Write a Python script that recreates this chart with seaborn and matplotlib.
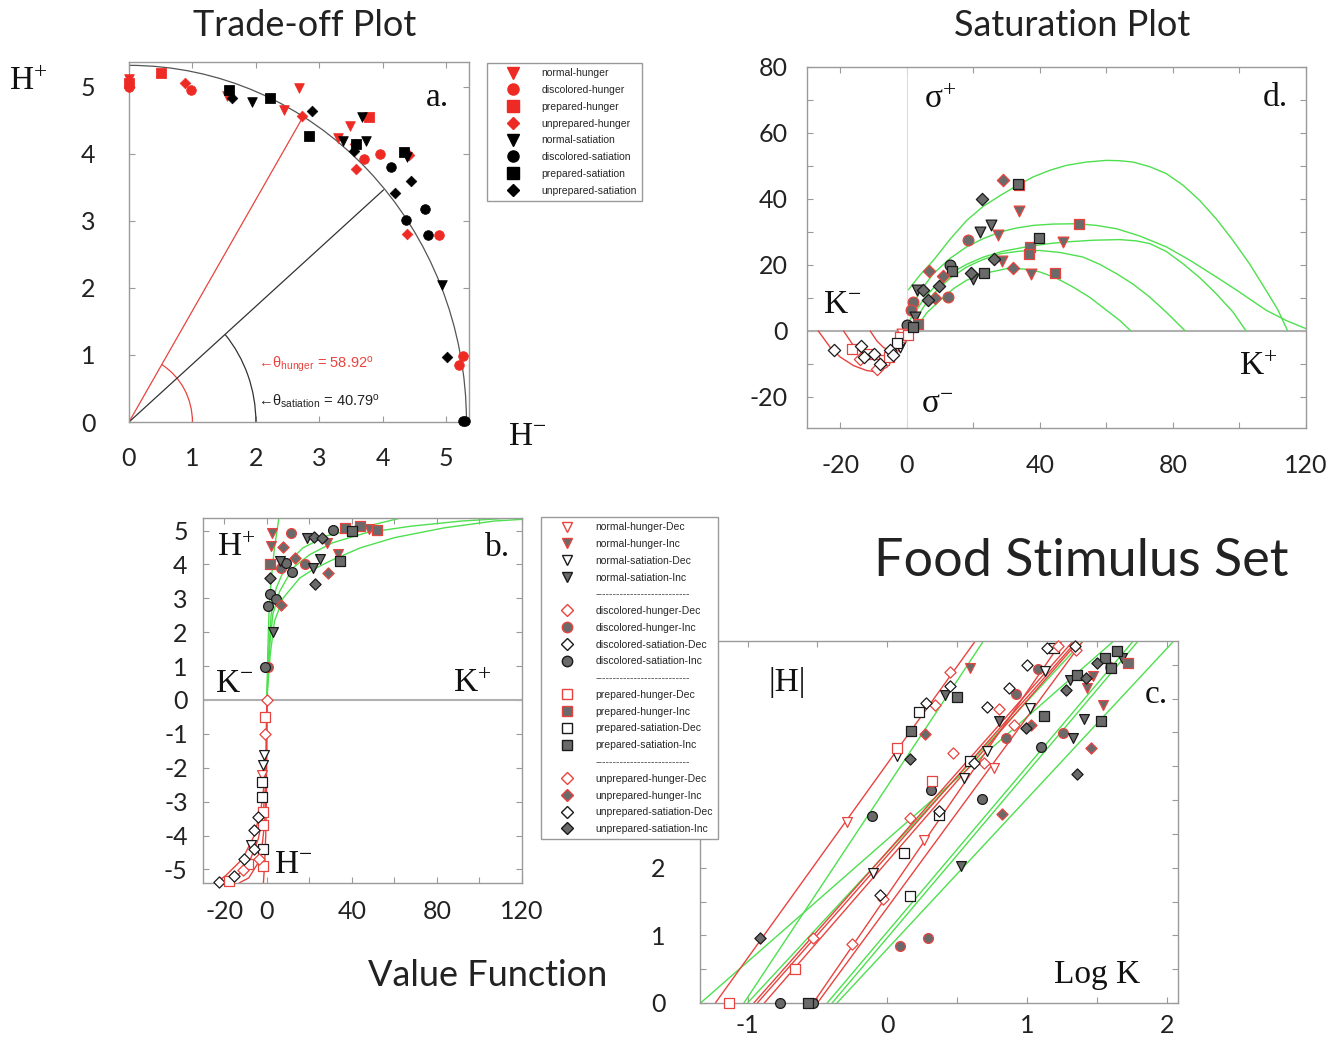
import numpy as np
import pandas as pd
import matplotlib
matplotlib.use("Agg")
import matplotlib.pyplot as plt
from matplotlib.patches import Arc
from matplotlib.lines import Line2D
import seaborn as sns

# ---------------- data: panel a (trade-off, H- vs H+) ----------------
a_nh_x = [0.0, 1.55, 2.68, 2.44, 3.48, 3.29]
a_nh_y = [5.12, 4.87, 4.98, 4.65, 4.41, 4.23]
a_dh_x = [0.0, 0.97, 3.71, 3.95, 4.88, 5.26, 5.20]
a_dh_y = [5.00, 4.95, 3.93, 4.00, 2.79, 0.98, 0.85]
a_ph_x = [0.0, 0.50, 3.78]
a_ph_y = [5.05, 5.21, 4.55]
a_uh_x = [0.88, 2.72, 3.56, 3.58, 4.42, 4.38]
a_uh_y = [5.05, 4.57, 4.15, 3.78, 3.99, 2.81]
a_ns_x = [1.94, 3.37, 3.67, 3.73, 4.39, 4.94]
a_ns_y = [4.78, 4.19, 4.55, 4.19, 3.96, 2.04]
a_ds_x = [4.13, 4.67, 4.36, 4.71, 5.26, 5.30]
a_ds_y = [3.81, 3.17, 3.02, 2.79, 0.01, 0.01]
a_ps_x = [1.58, 2.22, 2.83, 3.58, 4.33]
a_ps_y = [4.95, 4.84, 4.26, 4.15, 4.03]
a_us_x = [1.62, 2.89, 3.55, 4.45, 4.19, 5.02]
a_us_y = [4.83, 4.64, 4.04, 3.60, 3.41, 0.97]
theta_hunger = 58.92
theta_satiation = 40.79
a_radius = 5.32

# ---------------- data: panel d (saturation, K vs sigma) ----------------
d_k = [28.8, 33.6, 33.4, 22.6, 33.6, 25.4, 22.1, 27.4, 18.4, 51.7, 39.6, 46.9, 37.1, 36.7,
       26.1, 28.6, 31.8, 37.3, 44.4, 23.1, 19.3, 20.0, 6.8, 13.0, 13.5, 10.8, 9.8, 3.0, 5.0,
       6.5, 8.5, 12.5, 1.8, 1.3, 2.5, 3.5, 0.0, 2.0,
       -22, -13.7, -13, -9.8, -8, -5, -4, -2, -1, -16.5, -12, -7, -5.5, -2, 0.5, -9, -14, -3, -1.5]
d_s = [45.7, 44.1, 44.6, 40.1, 36.4, 32.0, 30.0, 29.0, 27.5, 32.3, 28.2, 27.0, 25.3, 23.4,
       21.9, 21.1, 19.2, 17.4, 17.6, 17.6, 17.6, 15.9, 18.2, 20.1, 18.2, 16.6, 13.5, 12.5, 12.3,
       9.3, 10.1, 10.3, 8.8, 6.5, 4.2, 2.2, 1.7, 1.2,
       -5.9, -4.6, -7.9, -6.9, -9.9, -5.9, -7.4, -4.8, -2.8, -5.4, -6.9, -8.9, -7.9, -1.8, -1.3, -11.4, -8.4, -3.5, -0.8]
d_code = ['uhI', 'phI', 'psI', 'usI', 'nhI', 'nsI', 'nsI', 'nhI', 'dhI', 'phI', 'psI', 'nhI', 'phI', 'phI',
          'usI', 'nhI', 'uhI', 'nhI', 'phI', 'psI', 'usI', 'nsI', 'uhI', 'dsI', 'psI', 'uhI', 'usI', 'nsI', 'usI',
          'usI', 'uhI', 'dhI', 'dhI', 'dhI', 'nsI', 'phI', 'dsI', 'psI',
          'usD', 'usD', 'usD', 'usD', 'usD', 'usD', 'usD', 'nsD', 'nsD', 'phD', 'phD', 'phD', 'phD', 'phD', 'phD',
          'uhD', 'uhD', 'psD', 'nhD']
d_green = [
    ([0.5, 4, 8, 13, 18, 23, 28, 33, 38, 43, 48, 54, 60, 64, 68, 73, 78, 83, 88, 93, 98, 103, 108, 111.5, 114.5],
     [12.5, 17, 21.4, 27.8, 33.5, 37.8, 41, 44, 46.7, 48.7, 50.2, 51.2, 51.7, 51.6, 51.2, 49.8, 47.7, 44.2,
      39.6, 34, 27.5, 20.4, 12.3, 6.5, 0]),
    ([0.5, 4, 8, 13, 18, 23, 28, 33, 38, 44, 51, 57, 63, 70, 78, 85, 93, 100, 108, 114, 120],
     [5.3, 12, 17.4, 22, 25.5, 28, 30, 31.2, 32, 32.4, 32.5, 32, 31, 28.8, 25.5, 21.5, 16.4, 11.8, 6.3, 3.2, 0.7]),
    ([1, 5, 9, 13, 18, 23, 29, 36, 42, 48, 56, 64, 69, 73, 78, 83, 88, 93, 98, 102],
     [3.5, 9.5, 14.2, 17.4, 20.2, 22.4, 24.2, 25.5, 26.4, 27, 27.5, 27.7, 27.3, 26.5, 24.1, 20.4, 16.2, 11.3, 5.8, 0]),
    ([2, 5, 8, 13, 18, 23, 28, 34, 40, 46, 53, 58, 63, 68, 73, 78, 83.7],
     [2.2, 7.2, 11.3, 16, 19.4, 21.7, 23.4, 24.2, 24.4, 23.8, 22.4, 20.2, 17.4, 14.2, 10.3, 5.7, 0]),
    ([3, 6, 10, 14, 18, 24, 30, 35, 40, 45, 50, 55, 60, 64, 67.4],
     [1.2, 5.5, 9.3, 12.8, 15.4, 17.6, 18.9, 18.8, 17.9, 16, 13.3, 10.2, 6.3, 3.2, 0]),
]
d_red = [
    ([-26.6, -23, -20, -16, -12, -9, -6, -3, -1, 0],
     [0, -5, -7.9, -10.5, -12, -12.4, -11, -6.9, -2.5, 0]),
    ([-19, -16, -13, -10, -7, -4, -2, 0],
     [0, -4.5, -7, -8.5, -8.8, -7, -4, 0]),
    ([-11, -9, -7, -5, -3, -1.5, 0],
     [0, -3, -5, -6, -5, -3, 0]),
]

# ---------------- data: panel b (value function, K vs H) ----------------
b_k = [2.5, 11.6, 2.1, 7.6, 1.6, 6.3, 6.8, 9.2, 12, 13.1, 17.9, 21.8, 25, 19, 22.2, 25.8, 28.2,
       31.3, 36.9, 40, 44, 48, 51.6, 33.7, 34.2, 29, 22.6, 1.3, 1.6, 4.4, 6.8, 0.5, 2.8, 0.5, -0.8,
       0, -0.8, -0.8, -1.4, -1.9, -2.4, -2.4, -2.4, -1.9, -4.3, -5.9, -1.9, -7.4, -5.9, -1.9, -3.5,
       -10.6, -11.4, -15.3, -22.5, -18, -9, -2.0]
b_h = [4.94, 4.94, 4.54, 4.51, 4.0, 4.1, 3.9, 4.05, 3.78, 4.2, 4.02, 3.9, 4.15, 4.77, 4.81, 4.77, 4.64,
       5.03, 5.08, 4.99, 5.13, 5.06, 5.03, 4.31, 4.1, 3.75, 3.41, 3.6, 3.14, 2.99, 2.81, 2.76, 2.02, 0.96, 0.96,
       0, -0.49, -0.99, -1.63, -1.92, -2.22, -2.42, -2.86, -3.31, -3.46, -3.85, -3.7, -4.29, -4.39, -4.39, -4.69,
       -4.69, -5.03, -5.18, -5.36, -5.33, -4.84, -4.9]
b_code = ['nhI', 'dhI', 'nhI', 'uhI', 'phI', 'nsI', 'dhI', 'dsI', 'dsI', 'uhI', 'dhI', 'nsI', 'nsI', 'nsI',
          'usI', 'usI', 'nhI', 'dsI', 'phI', 'psI', 'phI', 'nhI', 'phI', 'nhI', 'psI', 'uhI', 'usI', 'usI',
          'dsI', 'dsI', 'uhI', 'dsI', 'nsI', 'dhI', 'dsI',
          'dhD', 'phD', 'dhD', 'nsD', 'nsD', 'nhD', 'psD', 'psD', 'phD', 'usD', 'usD', 'phD', 'nsD', 'usD',
          'psD', 'uhD', 'usD', 'uhD', 'usD', 'dsD', 'phD', 'phD', 'phD']
b_green = [
    ([0, 0.5, 1, 2, 3.6, 5.7], [0, 1.53, 2.52, 3.5, 4.49, 5.37]),
    ([0, 1, 2, 4.4, 9.2, 17, 28, 44, 63], [0, 1.53, 2.5, 3.3, 4.0, 4.49, 4.84, 5.08, 5.37]),
    ([0, 1.3, 2.8, 6, 12.3, 20.2, 31, 47, 68, 91.5, 115],
     [0, 1.53, 2.52, 3.2, 3.9, 4.29, 4.64, 4.94, 5.13, 5.28, 5.37]),
    ([0, 1.6, 3.6, 7.6, 15.5, 21.8, 29.7, 44, 60, 83.5, 107, 120],
     [0, 1.33, 2.32, 3.0, 3.6, 3.85, 4.1, 4.49, 4.79, 5.08, 5.28, 5.33]),
]
b_red = [
    ([0, -0.3, -1.1, -2.7, -5.9, -11.4, -19.3, -24], [0, -1.43, -2.42, -3.2, -4.0, -4.69, -5.18, -5.4]),
    ([0, -0.2, -0.7, -1.8, -4.0, -8.0, -14.0, -20.0], [0, -1.5, -2.6, -3.4, -4.1, -4.75, -5.2, -5.4]),
    ([0, -0.1, -0.4, -1.0, -2.2, -4.5, -8.5, -13.0], [0, -1.6, -2.8, -3.6, -4.3, -4.85, -5.25, -5.4]),
    ([0, -0.05, -0.2, -0.5, -1.0, -1.6], [0, -1.5, -3.0, -4.0, -4.8, -5.4]),
]

# ---------------- data: panel c (log K vs |H|) ----------------
c_k = [-1.13, -0.77, -0.57, -0.53, -0.91, -0.66, -0.53, -0.25, 0.09, 0.29, -0.05, -0.03, 0.16, -0.1,
       0.53, 0.12, 0.26, 0.82, -0.29, -0.11, 0.16, 0.37, 0.37, 0.68, 0.31, 0.32, 0.55, 0.62, 0.69,
       0.76, 0.71, 0.59, 0.47, 0.07, 0.07, 0.16, 0.17, 0.27, 0.23, 0.28, 0.34, 0.41, 0.5, 0.45, 0.45,
       0.59, 0.71, 0.8, 0.8, 0.85, 0.87, 0.92, 0.91, 0.99, 1.03, 1.02, 1.12, 1.0, 1.08, 1.13, 1.14,
       1.19, 1.22, 1.34, 1.35, 1.1, 1.26, 1.33, 1.355, 1.46, 1.41, 1.53, 1.54, 1.28, 1.31, 1.36, 1.42,
       1.43, 1.47, 1.5, 1.56, 1.6, 1.64, 1.68, 1.72, 1.59]
c_h = [0, 0, 0, 0, 0.96, 0.5, 0.96, 0.87, 0.84, 0.96, 1.6, 1.53, 1.58, 1.92,
       2.02, 2.22, 2.41, 2.79, 2.68, 2.77, 2.73, 2.84, 2.78, 3.01, 3.15, 3.28, 3.33, 3.55, 3.55,
       3.48, 3.72, 3.57, 3.7, 3.65, 3.77, 3.6, 4.02, 3.98, 4.3, 4.44, 4.41, 4.55, 4.52, 4.68, 4.89,
       4.95, 4.37, 4.35, 4.17, 3.92, 4.66, 4.56, 4.11, 4.06, 4.11, 4.36, 4.24, 5.0, 4.93, 4.91, 5.25,
       5.25, 5.27, 5.27, 5.21, 3.79, 3.99, 3.92, 3.38, 3.77, 4.19, 4.17, 4.4, 4.62, 4.78, 4.85, 4.81,
       4.66, 4.84, 5.02, 5.1, 4.95, 5.2, 5.1, 5.02, 4.97]
c_code = ['phD', 'dsI', 'psI', 'dsI', 'usI', 'phD', 'uhD', 'uhD', 'dhI', 'dhI', 'usD', 'uhD', 'psD', 'nsD',
          'nsI', 'psD', 'nhD', 'uhI', 'nhD', 'dsI', 'uhD', 'usD', 'psD', 'dsI', 'dsI', 'phD', 'nsD', 'usD', 'uhD',
          'nhD', 'nsD', 'psD', 'uhD', 'nsD', 'phD', 'usI', 'psI', 'uhI', 'psD', 'usD', 'uhD', 'nsI', 'psI', 'usD',
          'uhD', 'nhI', 'usD', 'uhD', 'nsI', 'dhI', 'usD', 'dhI', 'uhD', 'usI', 'uhI', 'nsD', 'psI', 'usD', 'dhI',
          'nsD', 'usD', 'psD', 'uhD', 'usD', 'uhD', 'dsI', 'dhI', 'nsI', 'usI', 'uhI', 'nsI', 'psI', 'nhI', 'usI',
          'nsI', 'psI', 'usI', 'nhI', 'nhI', 'usI', 'psI', 'psI', 'psI', 'nsI', 'phI', 'dhI']
c_top = 5.35
c_red_x0 = [-1.23, -0.955, -0.93, -0.88, -0.53, -0.50]
c_red_x1 = [0.63, 1.33, 1.355, 1.37, 1.25, 1.40]
c_green_x0 = [-1.336, -1.026, -1.0, -0.43, -0.395, -0.36]
c_green_x1 = [1.62, 0.688, 1.40, 1.76, 1.795, 2.05]

stimuli = ['normal', 'discolored', 'prepared', 'unprepared']

# ---------------- style ----------------
sns.set_theme(style="ticks")
plt.rcParams['font.family'] = ['Lato', 'DejaVu Sans']
plt.rcParams['axes.unicode_minus'] = False
plt.rcParams['mathtext.fontset'] = 'custom'
plt.rcParams['mathtext.rm'] = 'Liberation Serif'
plt.rcParams['mathtext.it'] = 'Liberation Serif:italic'
plt.rcParams['mathtext.sf'] = 'Liberation Sans'

RED = '#ee2a24'
LRED = '#e8443f'
DARK = '#1a1a1a'
GRAY = '#6a6a6a'
GREEN = '#4ee04e'
SPINE = '#9a9a9a'

W, H = 1337, 1041
fig = plt.figure(figsize=(W / 100, H / 100), dpi=100)


def px_axes(l, t, r, b):
    return fig.add_axes([l / W, 1 - b / H, (r - l) / W, (b - t) / H])


def fig_text(x, y, s, **kw):
    fig.text(x / W, 1 - y / H, s, ha='center', va='center', **kw)


def frame(ax, xpad, ypad):
    for sp in ax.spines.values():
        sp.set_visible(True)
        sp.set_color(SPINE)
        sp.set_linewidth(1.0)
    ax.tick_params(which='both', direction='in', top=True, right=True, length=4,
                   width=0.8, color=SPINE, labelsize=18, labelcolor='#222222')
    ax.tick_params(axis='x', pad=xpad)
    ax.tick_params(axis='y', pad=ypad)
    ax.set_xlabel('')
    ax.set_ylabel('')


def style_of(code):
    stim, state, dirn = code
    if stim == 'n':
        m = 'v'
    elif stim == 'p':
        m = 's'
    elif stim == 'd' and dirn == 'I':
        m = 'o'
    else:
        m = 'D'
    face = GRAY if dirn == 'I' else 'white'
    edge = LRED if state == 'h' else DARK
    return m, face, edge


def draw_points(ax, xs, ys, codes, size):
    df = pd.DataFrame({'x': xs, 'y': ys, 'code': codes})
    for code, sub in df.groupby('code'):
        m, face, edge = style_of(code)
        s = size * 0.65 if m == 'D' else size
        sns.scatterplot(data=sub, x='x', y='y', marker=m, color=face, edgecolor=edge,
                        linewidth=0.9, s=s, ax=ax, legend=False, zorder=4, clip_on=False)


def draw_curves(ax, curves, color):
    for xs, ys in curves:
        sns.lineplot(x=xs, y=ys, ax=ax, color=color, lw=1.0, sort=False,
                     estimator=None, zorder=2)


leg_kw = dict(loc='upper left', bbox_transform=fig.transFigure,
              prop={'family': 'Liberation Sans', 'size': 7.5},
              frameon=True, fancybox=False, edgecolor=SPINE, framealpha=1, borderpad=0.5,
              labelspacing=0.65, handlelength=4.0, handletextpad=0.7, borderaxespad=0)

# ---------------- panel a ----------------
ax_a = px_axes(129, 62, 469, 422)
ax_a.add_patch(Arc((0, 0), 2 * a_radius, 2 * a_radius, theta1=0, theta2=90, color='#555555', lw=0.9))
ax_a.add_patch(Arc((0, 0), 2, 2, theta1=0, theta2=theta_hunger, color=LRED, lw=0.9))
ax_a.add_patch(Arc((0, 0), 4, 4, theta1=0, theta2=theta_satiation, color='#333333', lw=0.9))
for th, col in [(theta_hunger, LRED), (theta_satiation, '#333333')]:
    r = np.deg2rad(th)
    ax_a.plot([0, 5.3 * np.cos(r)], [0, 5.3 * np.sin(r)], color=col, lw=0.9)

a_sets = [
    (a_nh_x, a_nh_y, 'v', RED), (a_dh_x, a_dh_y, 'o', RED),
    (a_ph_x, a_ph_y, 's', RED), (a_uh_x, a_uh_y, 'D', RED),
    (a_ns_x, a_ns_y, 'v', 'black'), (a_ds_x, a_ds_y, 'o', 'black'),
    (a_ps_x, a_ps_y, 's', 'black'), (a_us_x, a_us_y, 'D', 'black'),
]
for xs, ys, m, c in a_sets:
    s = 30 if m == 'D' else 48
    sns.scatterplot(x=xs, y=ys, marker=m, color=c, edgecolor=c, s=s, ax=ax_a,
                    legend=False, zorder=4, clip_on=False)

ax_a.text(2.03, 0.86, '←θ$_{\\mathsf{hunger}}$ = 58.92$^{\\mathsf{o}}$', color=LRED,
          fontsize=10.5, family='Liberation Sans', va='center')
ax_a.text(2.03, 0.30, '←θ$_{\\mathsf{satiation}}$ = 40.79$^{\\mathsf{o}}$', color='#222222',
          fontsize=10.5, family='Liberation Sans', va='center')
ax_a.set_xlim(0, 5.36)
ax_a.set_ylim(0, 5.37)
ax_a.set_xticks(range(6))
ax_a.set_yticks(range(6))
frame(ax_a, 18, 24)

a_handles = []
a_labels = []
for state, c in [('hunger', RED), ('satiation', 'black')]:
    for stim, m in zip(stimuli, ['v', 'o', 's', 'D']):
        a_handles.append(Line2D([], [], ls='none', marker=m, color=c, markeredgecolor=c,
                                markersize=6.5 if m == 'D' else 8))
        a_labels.append(f'{stim}-{state}')
leg_a = fig.legend(a_handles, a_labels, bbox_to_anchor=(487 / W, 1 - 63 / H), **leg_kw)
leg_a.get_frame().set_linewidth(1.0)

# ---------------- panel d ----------------
ax_d = px_axes(807, 67, 1306, 428)
ax_d.axhline(0, color='#b0b0b0', lw=1.5, zorder=1)
ax_d.axvline(0, color='#dddddd', lw=0.8, zorder=1)
draw_curves(ax_d, d_green, GREEN)
draw_curves(ax_d, d_red, LRED)
draw_points(ax_d, d_k, d_s, d_code, 60)
ax_d.set_xlim(-30, 120)
ax_d.set_ylim(-29.4, 80)
ax_d.set_xticks(range(-20, 121, 20))
ax_d.set_xticklabels(['-20', '0', '', '40', '', '80', '', '120'])
ax_d.set_yticks(range(-20, 81, 10))
ax_d.set_yticklabels(['-20', '', '0', '', '20', '', '40', '', '60', '', '80'])
frame(ax_d, 19, 14)

# ---------------- panel b ----------------
ax_b = px_axes(203, 518, 522, 883)
ax_b.axhline(0, color='#b0b0b0', lw=1.5, zorder=1)
draw_curves(ax_b, b_green, GREEN)
draw_curves(ax_b, b_red, LRED)
draw_points(ax_b, b_k, b_h, b_code, 50)
ax_b.set_xlim(-30, 120)
ax_b.set_ylim(-5.4, 5.37)
ax_b.set_xticks(range(-20, 121, 20))
ax_b.set_xticklabels(['-20', '0', '', '40', '', '80', '', '120'])
ax_b.set_yticks(range(-5, 6))
frame(ax_b, 12, 11)

# ---------------- panel c ----------------
ax_c = px_axes(700, 641, 1178, 1003)
for x0, x1 in zip(c_green_x0, c_green_x1):
    sns.lineplot(x=[x0, x1], y=[0, c_top], ax=ax_c, color=GREEN, lw=1.0, estimator=None, zorder=2)
for x0, x1 in zip(c_red_x0, c_red_x1):
    sns.lineplot(x=[x0, x1], y=[0, c_top], ax=ax_c, color=LRED, lw=1.0, estimator=None, zorder=2)
draw_points(ax_c, c_k, c_h, c_code, 50)
ax_c.set_xlim(-1.34, 2.08)
ax_c.set_ylim(0, 5.35)
ax_c.set_xticks(np.arange(-1, 2.01, 0.5))
ax_c.set_xticklabels(['-1', '', '0', '', '1', '', '2'])
ax_c.set_yticks(np.arange(0, 5.01, 0.5))
# labels above 2 sit under the legend box in the original
ax_c.set_yticklabels(['0', '', '1', '', '2', '', '', '', '', '', ''])
frame(ax_c, 8, 25)

# legend for b / c / d markers
b_handles = []
b_labels = []
sep = '-' * 27
for i, stim in enumerate(stimuli):
    if i > 0:
        b_handles.append(Line2D([], [], ls='none'))
        b_labels.append(sep)
    for state, st in [('hunger', 'h'), ('satiation', 's')]:
        for dirn, dl in [('D', 'Dec'), ('I', 'Inc')]:
            m, face, edge = style_of(stim[0] + st + dirn)
            b_handles.append(Line2D([], [], ls='none', marker=m, markerfacecolor=face,
                                    markeredgecolor=edge, markeredgewidth=1.0,
                                    markersize=6 if m == 'D' else 7.5))
            b_labels.append(f'{stim}-{state}-{dl}')
leg_b = fig.legend(b_handles, b_labels, bbox_to_anchor=(541 / W, 1 - 517 / H), **leg_kw)
leg_b.get_frame().set_linewidth(1.0)
for txt in leg_b.get_texts():
    if txt.get_text() == sep:
        txt.set_color('#444444')

# ---------------- titles and annotations ----------------
title_kw = dict(fontsize=26, color='#222222', family='Lato')
fig_text(305, 25, 'Trade-off Plot', **title_kw)
fig_text(1072, 25, 'Saturation Plot', **title_kw)
fig_text(488, 975, 'Value Function', **title_kw)
fig_text(1081, 562, 'Food Stimulus Set', fontsize=37.5, color='#222222', family='Lato')

serif = dict(fontsize=24, color='#111111', family='Liberation Serif')
fig_text(28, 82, 'H$^{\\mathrm{+}}$', **serif)
fig_text(527, 437, 'H$^{\\mathrm{-}}$', **serif)
fig_text(438, 98, 'a.', **serif)
fig_text(940, 100, 'σ$^{\\mathrm{+}}$', **serif)
fig_text(937, 405, 'σ$^{\\mathrm{-}}$', **serif)
fig_text(842, 305, 'K$^{\\mathrm{-}}$', **serif)
fig_text(1258, 367, 'K$^{\\mathrm{+}}$', **serif)
fig_text(1275, 98, 'd.', **serif)
fig_text(236, 548, 'H$^{\\mathrm{+}}$', **serif)
fig_text(293, 865, 'H$^{\\mathrm{-}}$', **serif)
fig_text(234, 684, 'K$^{\\mathrm{-}}$', **serif)
fig_text(472, 684, 'K$^{\\mathrm{+}}$', **serif)
fig_text(498, 548, 'b.', **serif)
fig_text(787, 683, '|H|', **serif)
fig_text(1156, 695, 'c.', **serif)
fig_text(1097, 975, 'Log K', **serif)

fig.savefig('out.png', dpi=100)
